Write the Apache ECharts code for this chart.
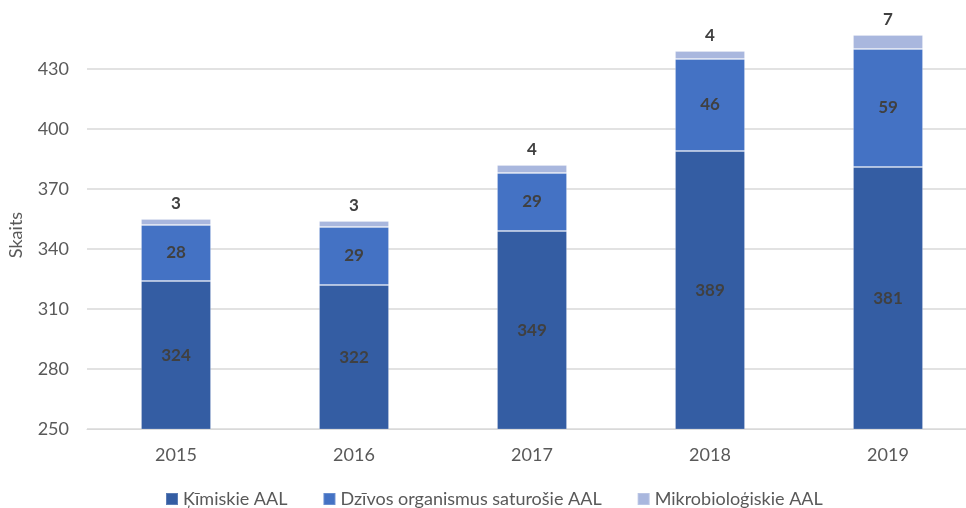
<!DOCTYPE html>
<html>
<head>
<meta charset="utf-8">
<script src="https://cdn.jsdelivr.net/npm/echarts@6/dist/echarts.min.js"></script>
<style>
  html, body { margin: 0; padding: 0; background: #fff; }
  #chart { width: 966px; height: 508px; }
</style>
</head>
<body>
<div id="chart"></div>
<script>
const years = ["2015", "2016", "2017", "2018", "2019"];
const kimiskie = [324, 322, 349, 389, 381];
const dzivos = [28, 29, 29, 46, 59];
const mikro = [3, 3, 4, 4, 7];
const seriesNames = ["Ķīmiskie AAL", "Dzīvos organismus saturošie AAL", "Mikrobioloģiskie AAL"];
const colors = ["#345da3", "#4472c4", "#a9b7de"];

const font = "Lato, 'Open Sans', sans-serif";
const labelStyle = {
  show: true,
  position: "inside",
  color: "#404040",
  fontWeight: "bold",
  fontSize: 17,
  fontFamily: font,
};

const myChart = echarts.init(document.getElementById("chart"));
const option = {
  animation: false,
  color: colors,
  textStyle: { fontFamily: font },
  grid: { left: 87, top: 9, right: -11, height: 420, containLabel: false, outerBoundsMode: "none" },
  legend: {
    left: 160,
    top: 485,
    itemWidth: 12,
    itemHeight: 12,
    itemGap: 35,
    icon: "rect",
    textStyle: { color: "#595959", fontSize: 18, fontFamily: font },
    data: seriesNames,
  },
  xAxis: {
    type: "category",
    data: years,
    axisTick: { show: false },
    axisLine: { lineStyle: { color: "#d9d9d9", width: 1 } },
    axisLabel: { color: "#595959", fontSize: 18, margin: 17, fontFamily: font },
  },
  yAxis: {
    type: "value",
    min: 250,
    max: 460,
    interval: 30,
    name: "Skaits",
    nameLocation: "middle",
    nameGap: 62,
    nameTextStyle: { color: "#595959", fontSize: 18, fontFamily: font, padding: [0, 32, 0, 0] },
    axisLine: { show: false },
    axisTick: { show: false },
    axisLabel: { color: "#595959", fontSize: 18, margin: 18, showMaxLabel: false, fontFamily: font },
    splitLine: {
      lineStyle: {
        color: ["#d9d9d9", "#d9d9d9", "#d9d9d9", "#d9d9d9", "#d9d9d9", "#d9d9d9", "#d9d9d9", "rgba(0,0,0,0)"],
        width: 1.5,
      },
    },
  },
  series: [
    {
      name: seriesNames[0],
      type: "bar",
      stack: "total",
      barWidth: 70,
      data: kimiskie,
      itemStyle: { borderColor: "rgba(255,255,255,0.2)", borderWidth: 1 },
      label: labelStyle,
    },
    {
      name: seriesNames[1],
      type: "bar",
      stack: "total",
      barWidth: 70,
      data: dzivos,
      itemStyle: { borderColor: "rgba(255,255,255,0.2)", borderWidth: 1 },
      label: labelStyle,
    },
    {
      name: seriesNames[2],
      type: "bar",
      stack: "total",
      barWidth: 70,
      data: mikro,
      itemStyle: { borderColor: "rgba(255,255,255,0.2)", borderWidth: 1 },
      label: Object.assign({}, labelStyle, { position: "top", distance: 7 }),
    },
  ],
};
myChart.setOption(option);
</script>
</body>
</html>
